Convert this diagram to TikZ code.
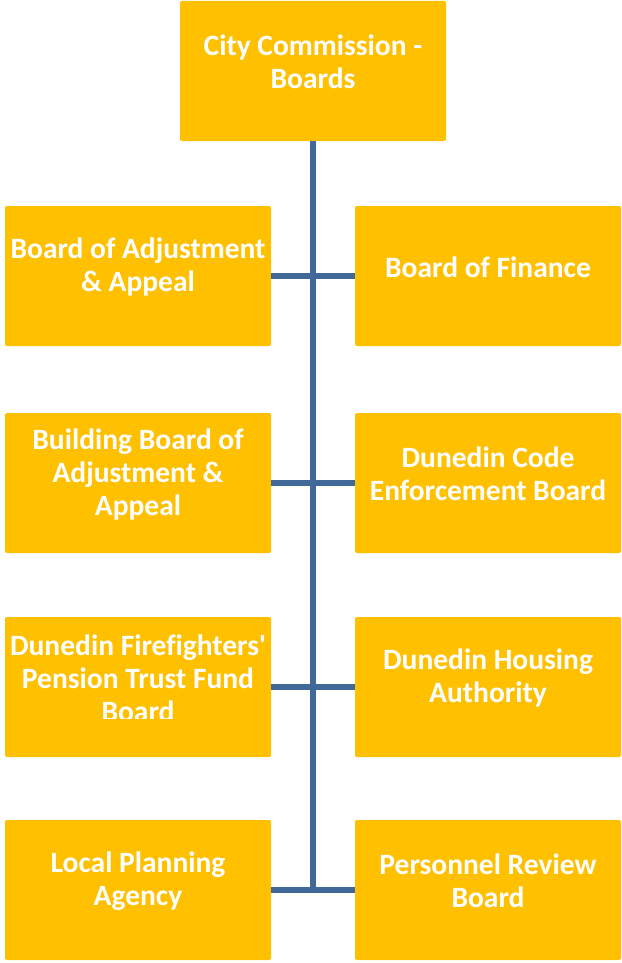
\documentclass[tikz,border=0pt]{standalone}
\usepackage{fontspec}
\setmainfont{Carlito}[Ligatures=NoCommon]
\usepackage{tikz}
\usetikzlibrary{positioning}

\definecolor{boxgold}{RGB}{255,192,0}
\definecolor{linkblue}{RGB}{64,104,152}

\tikzset{
  board/.style={rectangle, rounded corners=2pt, fill=boxgold, draw=none,
    minimum width=266pt, minimum height=140pt, inner sep=0pt},
  boardtext/.style={text=white, font=\fontsize{29.5}{33}\selectfont\bfseries,
    align=center, inner sep=0pt},
  link/.style={linkblue, line width=5.5pt}
}

\begin{document}
\begin{tikzpicture}[x=1pt, y=-1pt]
  \useasboundingbox (0,0) rectangle (621,963);

  % Boxes (pixel grid, y downwards)
  \node[board] (cc)    at (313,71)  {};
  \node[board] (boaa)  at (138,276) {};
  \node[board] (bof)   at (488,276) {};
  \node[board] (bboaa) at (138,483) {};
  \node[board] (dceb)  at (488,483) {};
  \node[board] (dfpt)  at (138,687) {};
  \node[board] (dha)   at (488,687) {};
  \node[board] (lpa)   at (138,890) {};
  \node[board] (prb)   at (488,890) {};

  % Trunk and branches
  \draw[link] (cc.south) -- (cc.south |- lpa.east);
  \draw[link] (boaa.east) -- (bof.west);
  \draw[link] (bboaa.east) -- (dceb.west);
  \draw[link] (dfpt.east) -- (dha.west);
  \draw[link] (lpa.east) -- (prb.west);

  % Labels, set a little above the box centres
  \node[boardtext] (ccT)    at (313,62)  {City Commission -\\Boards};
  \node[boardtext] (boaaT)  at (138,267) {Board of Adjustment\\\& Appeal};
  \node[boardtext] (bofT)   at (488,267) {Board of Finance};
  \node[boardtext] (bboaaT) at (138,474) {Building Board of\\Adjustment \&\\Appeal};
  \node[boardtext] (dcebT)  at (488,474) {Dunedin Code\\Enforcement Board};
  \begin{scope}
    \clip (5,620) rectangle (271,718);
    \node[boardtext] (dfptT) at (138,678) {Dunedin Firefighters\textquotesingle\\Pension Trust Fund\\Board};
  \end{scope}
  \node[boardtext] (dhaT)   at (488,678) {Dunedin Housing\\Authority};
  \node[boardtext] (lpaT)   at (138,881) {Local Planning\\Agency};
  \node[boardtext] (prbT)   at (488,881) {Personnel Review\\Board};
\end{tikzpicture}
\end{document}
